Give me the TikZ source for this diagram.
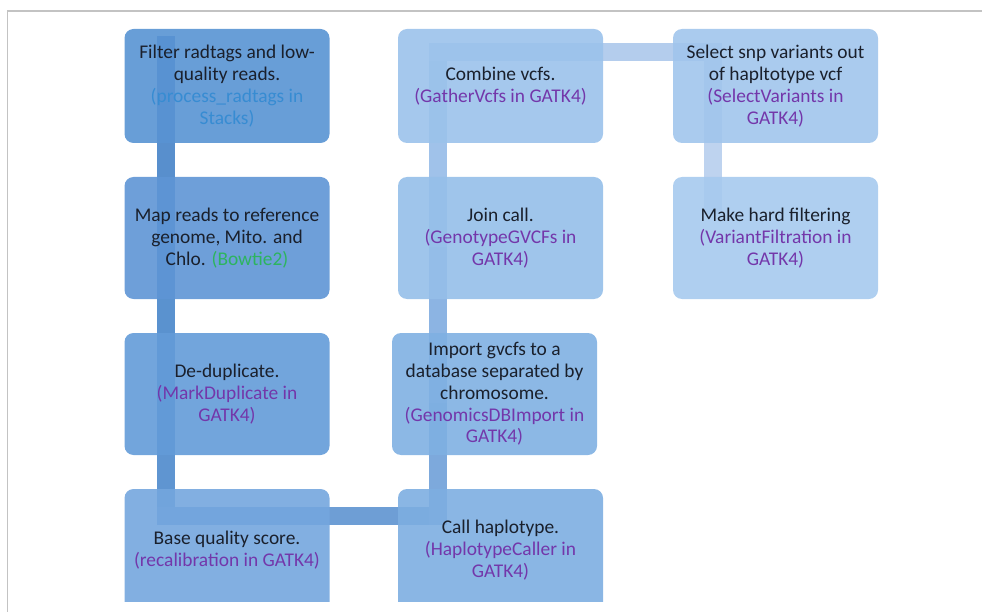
\documentclass[tikz,border=0pt]{standalone}
\usepackage{fontspec}
\setmainfont{Carlito}
\usepackage{xcolor}
\usetikzlibrary{backgrounds}

\definecolor{steptxt}{RGB}{26,32,44}
\definecolor{tooltxt}{RGB}{115,55,170}
\definecolor{stacktxt}{RGB}{55,140,210}
\definecolor{bowtxt}{RGB}{45,180,95}
\definecolor{framegray}{RGB}{195,195,195}

\newcommand{\gatk}[1]{\textcolor{tooltxt}{#1}}

\begin{document}
\begin{tikzpicture}[x=1pt,y=1pt,yscale=-1,xscale=1,
  stepbox/.style={rectangle, rounded corners=9pt, minimum width=205pt, minimum height=122pt,
    inner sep=2pt, fill opacity=0.9, text opacity=1, align=center, text=steptxt,
    font=\fontsize{19.4}{21.8}\selectfont},
  toprow/.style={minimum height=114pt},
  link/.style={line width=18pt, line cap=rect}]
\useasboundingbox (0,0) rectangle (982,612);

%Shape: Frame
\draw [color=framegray, line width=1.5pt] (7.5,612) -- (7.5,11) -- (982,11) ;

\begin{scope}
\clip (0,0) rectangle (982,601);
% Text Node
\node [stepbox, toprow, fill={rgb, 255:red, 88; green, 147; blue, 211 }] (filter) at (227,86) {Filter radtags and low-\\quality reads.\\\textcolor{stacktxt}{(process\_radtags in}\\\textcolor{stacktxt}{Stacks)}};
% Text Node
\node [stepbox, fill={rgb, 255:red, 94; green, 149; blue, 213 }] (mapreads) at (227,238) {Map reads to reference\\genome, Mito. and\\Chlo. \textcolor{bowtxt}{(Bowtie2)}};
% Text Node
\node [stepbox, fill={rgb, 255:red, 99; green, 155; blue, 216 }] (dedup) at (227,394) {De-duplicate.\\\gatk{(MarkDuplicate in}\\\gatk{GATK4)}};
% Text Node
\node [stepbox, fill={rgb, 255:red, 116; green, 166; blue, 222 }] (bqsr) at (227,550) {Base quality score.\\\gatk{(recalibration in GATK4)}};
% Text Node
\node [stepbox, fill={rgb, 255:red, 125; green, 174; blue, 225 }] (callhap) at (500.5,550) {Call haplotype.\\\gatk{(HaplotypeCaller in}\\\gatk{GATK4)}};
% Text Node
\node [stepbox, fill={rgb, 255:red, 127; green, 176; blue, 226 }] (import) at (494.5,394) {Import gvcfs to a\\database separated by\\chromosome.\\\gatk{(GenomicsDBImport in}\\\gatk{GATK4)}};
% Text Node
\node [stepbox, fill={rgb, 255:red, 149; green, 191; blue, 233 }] (joincall) at (500.5,238) {Join call.\\\gatk{(GenotypeGVCFs in}\\\gatk{GATK4)}};
% Text Node
\node [stepbox, toprow, fill={rgb, 255:red, 155; green, 194; blue, 235 }] (combine) at (500.5,86) {Combine vcfs.\\\gatk{(GatherVcfs in GATK4)}};
% Text Node
\node [stepbox, toprow, fill={rgb, 255:red, 161; green, 197; blue, 236 }] (selectsnp) at (775.5,86) {Select snp variants out\\of hapltotype vcf\\\gatk{(SelectVariants in}\\\gatk{GATK4)}};
% Text Node
\node [stepbox, fill={rgb, 255:red, 166; green, 202; blue, 238 }] (hardfilter) at (775.5,238) {Make hard filtering\\\gatk{(VariantFiltration in}\\\gatk{GATK4)}};
\end{scope}

% lanes of the bent connector
\coordinate (laneA) at (166,45);
\coordinate (laneH) at (166,516);
\coordinate (laneB) at (438,52);
\coordinate (laneC) at (713,205);

\begin{pgfonlayer}{background}
%Straight Lines
\draw [link, color={rgb, 255:red, 88; green, 143; blue, 205 }] (laneA) -- (laneA |- mapreads.center) ;
\draw [link, color={rgb, 255:red, 90; green, 146; blue, 207 }] (laneA |- mapreads.center) -- (laneA |- dedup.center) ;
\draw [link, color={rgb, 255:red, 95; green, 149; blue, 209 }] (laneA |- dedup.center) -- (laneH) ;
\draw [link, color={rgb, 255:red, 110; green, 158; blue, 213 }] (laneH) -- (laneB |- laneH) ;
\draw [link, color={rgb, 255:red, 125; green, 169; blue, 220 }] (laneB |- laneH) -- (laneB |- import.center) ;
\draw [link, color={rgb, 255:red, 140; green, 180; blue, 227 }] (laneB |- import.center) -- (laneB |- joincall.center) ;
\draw [link, color={rgb, 255:red, 160; green, 194; blue, 234 }] (laneB |- joincall.center) -- (laneB) ;
\draw [link, color={rgb, 255:red, 180; green, 205; blue, 237 }] (laneB) -- (laneC |- laneB) ;
\draw [link, color={rgb, 255:red, 190; green, 211; blue, 239 }] (laneC |- laneB) -- (laneC) ;
\end{pgfonlayer}

\end{tikzpicture}
\end{document}
